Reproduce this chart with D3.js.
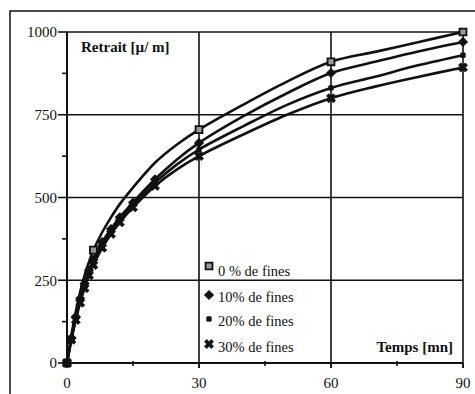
<!DOCTYPE html>
<html><head><meta charset="utf-8">
<script src="https://cdn.jsdelivr.net/npm/d3@7"></script>
<style>body{margin:0;background:#fff}svg{display:block}text{font-family:"Liberation Serif","Times New Roman",serif;fill:#111}</style>
</head><body><svg id="c" width="475" height="394"></svg>
<script>
const times = [0,1,2,3,4,5,6,8,10,12,15,20,25,30,40,50,60,70,80,90];
const fines0  = [0,85,155,215,265,305,341,395,440,480,530,605,660,705,780,850,910,940,970,1000];
const fines10 = [0,75,140,195,240,280,312,365,405,440,485,555,615,665,745,815,876,910,942,970];
const fines20 = [0,72,135,188,232,272,303,355,397,432,478,545,600,645,715,780,831,865,900,930];
const fines30 = [0,70,130,182,226,265,296,348,390,425,470,535,585,625,690,750,800,835,865,893];
const seriesNames = ["0 % de fines","10% de fines","20% de fines","30% de fines"];
const markerTimes0 = [0,6,30,60,90];
const markerTimesOther = [0,1,2,3,4,5,6,8,10,12,15,20,30,60,90];
const xMajor = [0,30,60,90];
const xMinor = [15,45,75];
const yMajor = [0,250,500,750,1000];
const yMinor = [125,375,625,875];

const svg = d3.select("#c");
const x = d3.scaleLinear().domain([0,90]).range([67,463]);
const y = d3.scaleLinear().domain([0,1000]).range([363,32]);

// outer frame
svg.append("rect").attr("x",10).attr("y",11).attr("width",480).attr("height",400)
  .attr("fill","none").attr("stroke","#111").attr("stroke-width",1.5);

// grid
const g = svg.append("g").attr("stroke","#111");
yMajor.filter(d=>d>0).forEach(d=>{
  g.append("line").attr("x1",x(0)).attr("x2",x(90)).attr("y1",y(d)).attr("y2",y(d)).attr("stroke-width",1.6);
});
xMajor.filter(d=>d>0).forEach(d=>{
  g.append("line").attr("x1",x(d)).attr("x2",x(d)).attr("y1",y(1000)).attr("y2",y(0)+5).attr("stroke-width",1.6);
});
// axes
g.append("line").attr("x1",x(0)).attr("x2",x(0)).attr("y1",y(1000)).attr("y2",y(0)).attr("stroke-width",2);
g.append("line").attr("x1",x(0)).attr("x2",x(90)).attr("y1",y(0)).attr("y2",y(0)).attr("stroke-width",2);
yMajor.forEach(d=>g.append("line").attr("x1",x(0)-9).attr("x2",x(0)).attr("y1",y(d)).attr("y2",y(d)).attr("stroke-width",1.6));
yMinor.forEach(d=>g.append("line").attr("x1",x(0)-5).attr("x2",x(0)).attr("y1",y(d)).attr("y2",y(d)).attr("stroke-width",1.6));
xMajor.forEach(d=>g.append("line").attr("x1",x(d)).attr("x2",x(d)).attr("y1",y(0)).attr("y2",y(0)+5).attr("stroke-width",1.6));
xMinor.forEach(d=>g.append("line").attr("x1",x(d)).attr("x2",x(d)).attr("y1",y(0)-2).attr("y2",y(0)+3).attr("stroke-width",1.6));

// tick labels
yMajor.forEach(d=>svg.append("text").attr("x",x(0)-10).attr("y",y(d)).attr("dy","0.35em")
  .attr("text-anchor","end").attr("font-size",15).text(d));
xMajor.forEach(d=>svg.append("text").attr("x",x(d)).attr("y",y(0)+20).attr("dy","0.35em")
  .attr("text-anchor","middle").attr("font-size",15).text(d));

svg.append("text").attr("x",81).attr("y",47).attr("dy","0.35em").attr("font-size",15).attr("font-weight","bold").text("Retrait [µ/ m]");
svg.append("text").attr("x",453).attr("y",347).attr("dy","0.35em").attr("text-anchor","end").attr("font-size",15).attr("font-weight","bold").text("Temps [mn]");

// series
const allSeries = [fines0,fines10,fines20,fines30];
const line = d3.line().x((d,i)=>x(times[i])).y(d=>y(d)).curve(d3.curveCatmullRom);
allSeries.forEach(s=>{
  svg.append("path").attr("d",line(s)).attr("fill","none").attr("stroke","#111").attr("stroke-width",2.6);
});

const sym = [
  {type:d3.symbolSquare,size:48,fill:"#999",stroke:"#111",sw:1.8,rot:0},
  {type:d3.symbolSquare,size:38,fill:"#111",stroke:"#111",sw:1,rot:45},
  {type:d3.symbolSquare,size:18,fill:"#111",stroke:"#111",sw:1,rot:0},
  {type:d3.symbolCross,size:50,fill:"#111",stroke:"#111",sw:0.8,rot:45}
];
function drawSym(sel,k,cx,cy){
  const s=sym[k];
  sel.append("path").attr("d",d3.symbol().type(s.type).size(s.size)())
    .attr("transform",`translate(${cx},${cy}) rotate(${s.rot})`)
    .attr("fill",s.fill).attr("stroke",s.stroke).attr("stroke-width",s.sw);
}
allSeries.forEach((s,k)=>{
  const mt = k===0 ? markerTimes0 : markerTimesOther;
  times.forEach((t,i)=>{ if(mt.includes(t)) drawSym(svg,k,x(t),y(s[i])); });
});

// legend
const legY=[266,295,319,344], txtY=[271,297,321,347];
seriesNames.forEach((n,k)=>{
  drawSym(svg,k,209,legY[k]);
  svg.append("text").attr("x",218).attr("y",txtY[k]).attr("dy","0.35em").attr("font-size",14.5).text(n);
});
</script></body></html>
